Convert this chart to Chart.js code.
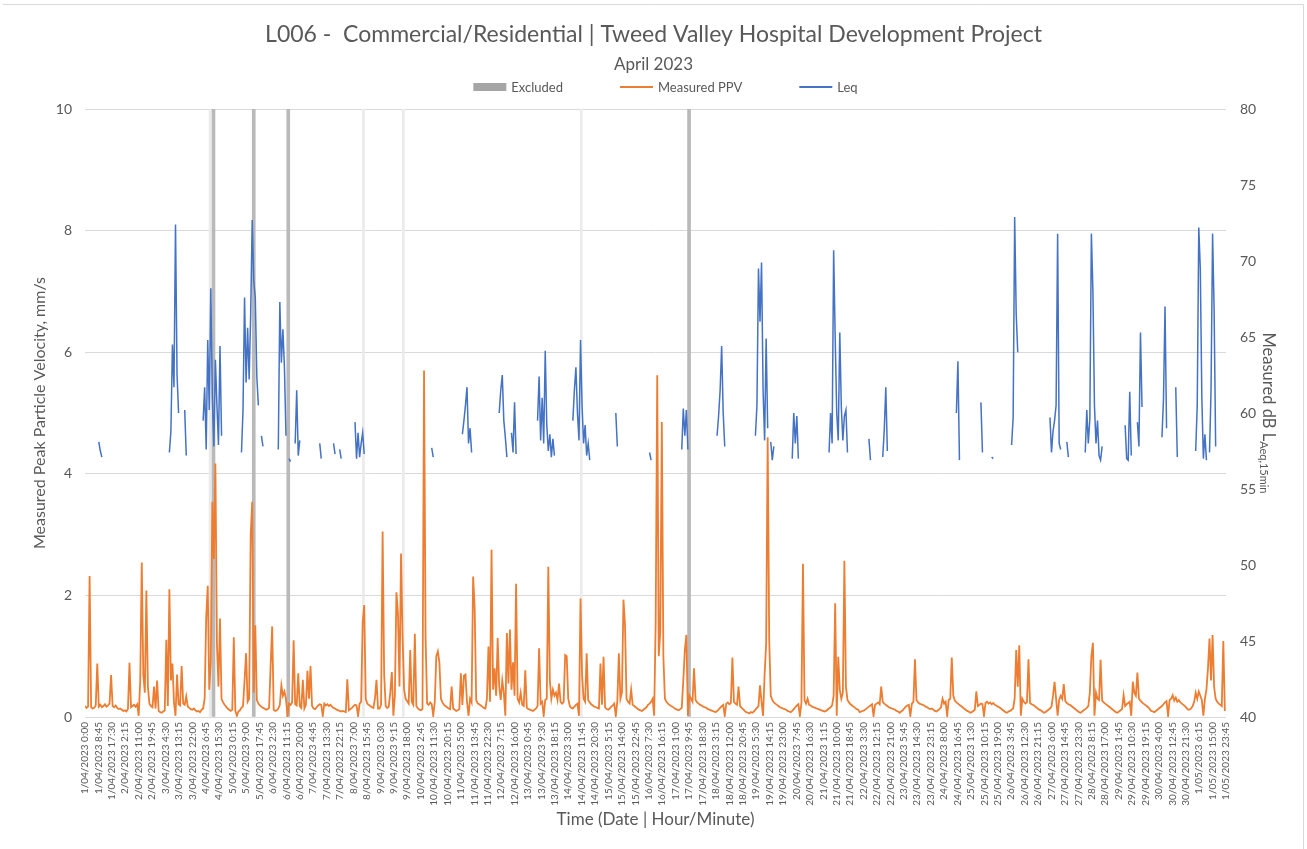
<!DOCTYPE html>
<html>
<head>
<meta charset="utf-8">
<title>L006 - Commercial/Residential | Tweed Valley Hospital Development Project</title>
<script src="https://cdn.jsdelivr.net/npm/chart.js@4.4.1/dist/chart.umd.min.js"></script>
<style>
    html, body { margin: 0; padding: 0; background: #fff; }
    #wrap { width: 1307px; height: 849px; position: relative; }
</style>
</head>
<body>
<div id="wrap"><canvas id="ppvChart"></canvas></div>
<script>
// Axis labels: one every 35 x 15-minute slots (8h45)
const tickStep = 35;
const tickLabels = [
    '1/04/2023 0:00', '1/04/2023 8:45', '1/04/2023 17:30', '2/04/2023 2:15', '2/04/2023 11:00', '2/04/2023 19:45',
    '3/04/2023 4:30', '3/04/2023 13:15', '3/04/2023 22:00', '4/04/2023 6:45', '4/04/2023 15:30', '5/04/2023 0:15',
    '5/04/2023 9:00', '5/04/2023 17:45', '6/04/2023 2:30', '6/04/2023 11:15', '6/04/2023 20:00', '7/04/2023 4:45',
    '7/04/2023 13:30', '7/04/2023 22:15', '8/04/2023 7:00', '8/04/2023 15:45', '9/04/2023 0:30', '9/04/2023 9:15',
    '9/04/2023 18:00', '10/04/2023 2:45', '10/04/2023 11:30', '10/04/2023 20:15', '11/04/2023 5:00', '11/04/2023 13:45',
    '11/04/2023 22:30', '12/04/2023 7:15', '12/04/2023 16:00', '13/04/2023 0:45', '13/04/2023 9:30', '13/04/2023 18:15',
    '14/04/2023 3:00', '14/04/2023 11:45', '14/04/2023 20:30', '15/04/2023 5:15', '15/04/2023 14:00', '15/04/2023 22:45',
    '16/04/2023 7:30', '16/04/2023 16:15', '17/04/2023 1:00', '17/04/2023 9:45', '17/04/2023 18:30', '18/04/2023 3:15',
    '18/04/2023 12:00', '18/04/2023 20:45', '19/04/2023 5:30', '19/04/2023 14:15', '19/04/2023 23:00', '20/04/2023 7:45',
    '20/04/2023 16:30', '21/04/2023 1:15', '21/04/2023 10:00', '21/04/2023 18:45', '22/04/2023 3:30', '22/04/2023 12:15',
    '22/04/2023 21:00', '23/04/2023 5:45', '23/04/2023 14:30', '23/04/2023 23:15', '24/04/2023 8:00', '24/04/2023 16:45',
    '25/04/2023 1:30', '25/04/2023 10:15', '25/04/2023 19:00', '26/04/2023 3:45', '26/04/2023 12:30', '26/04/2023 21:15',
    '27/04/2023 6:00', '27/04/2023 14:45', '27/04/2023 23:30', '28/04/2023 8:15', '28/04/2023 17:00', '29/04/2023 1:45',
    '29/04/2023 10:30', '29/04/2023 19:15', '30/04/2023 4:00', '30/04/2023 12:45', '30/04/2023 21:30', '1/05/2023 6:15',
    '1/05/2023 15:00', '1/05/2023 23:45'
];
const lastSlot = 2975;

// Measured PPV (mm/s), hourly readings, one row per day (1/04 .. 1/05)
const ppvHourly = [
    [0.18,0.15,0.17,2.32,0.16,0.14,0.15,0.19,0.88,0.17,0.20,0.16,0.18,0.21,0.17,0.19,0.22,0.69,0.18,0.16,0.19,0.15,0.13,0.14],
    [0.12,0.10,0.11,0.09,0.13,0.89,0.16,0.18,0.20,0.17,0.21,0.02,0.60,2.54,0.70,0.40,2.08,0.50,0.22,0.18,0.16,0.50,0.14,0.60],
    [0.10,0.08,0.07,0.09,0.11,1.27,0.18,2.10,0.60,0.88,0.24,0.02,0.70,0.21,0.19,0.84,0.22,0.20,0.34,0.17,0.15,0.13,0.12,0.14],
    [0.11,0.09,0.10,0.08,0.12,0.14,0.30,1.64,2.16,0.45,0.90,3.54,2.60,4.17,1.20,0.50,1.62,0.30,0.24,0.20,0.17,0.14,0.12,0.10],
    [0.12,1.31,0.10,0.02,0.09,0.11,0.15,0.18,0.60,1.05,0.25,0.30,2.98,3.54,0.40,1.51,0.28,0.22,0.19,0.17,0.15,0.14,0.12,0.13],
    [0.15,0.84,1.49,0.12,0.10,0.11,0.14,0.20,0.52,0.35,0.42,0.30,0.02,0.22,0.20,0.24,1.26,0.21,0.19,0.72,0.18,0.15,0.61,0.14],
    [0.20,0.76,0.30,0.84,0.18,0.14,0.13,0.16,0.19,0.21,0.20,0.02,0.22,0.19,0.21,0.18,0.20,0.17,0.15,0.14,0.12,0.11,0.10,0.09],
    [0.10,0.09,0.08,0.62,0.11,0.13,0.15,0.18,0.20,0.19,0.02,0.22,0.25,1.55,1.84,0.30,0.22,0.20,0.18,0.16,0.15,0.30,0.61,0.14],
    [0.14,0.20,3.05,0.70,0.18,0.15,0.17,0.40,0.74,0.02,0.35,2.05,1.70,0.50,2.69,1.32,0.45,0.30,0.26,0.22,1.10,0.25,0.20,1.37],
    [0.18,0.14,0.12,0.11,0.13,5.70,1.30,0.22,0.20,0.24,0.21,0.02,0.25,1.00,1.08,0.90,0.30,0.24,0.20,0.18,0.16,0.14,0.13,0.50],
    [0.14,0.12,0.10,0.11,0.13,0.72,0.20,0.68,0.70,0.25,0.02,0.30,0.24,2.31,1.79,0.28,0.22,0.21,0.19,0.17,0.15,0.14,0.30,1.16],
    [0.25,2.75,0.45,0.80,0.35,1.30,0.50,0.28,0.60,0.40,0.02,1.38,0.55,1.44,0.45,0.90,0.35,2.19,0.30,0.24,0.40,0.20,0.18,0.77],
    [0.15,0.13,0.12,0.11,0.10,0.12,0.14,0.18,1.13,0.22,0.25,0.02,0.28,0.30,2.47,0.60,0.30,0.45,0.35,0.40,0.28,0.55,0.25,0.22],
    [0.25,1.02,1.00,0.30,0.18,0.15,0.14,0.17,0.20,0.22,0.02,1.95,0.70,0.30,0.25,1.05,0.28,0.24,0.21,0.19,0.17,0.16,0.15,0.14],
    [0.88,0.20,0.99,0.16,0.13,0.12,0.14,0.17,0.19,0.22,0.02,0.26,1.05,0.30,0.40,1.93,1.51,0.30,0.25,0.22,0.45,0.20,0.18,0.16],
    [0.14,0.12,0.11,0.10,0.12,0.14,0.16,0.20,0.22,0.25,0.30,0.02,1.58,5.62,1.00,1.40,4.85,1.00,0.30,0.25,0.22,0.20,0.18,0.17],
    [0.15,0.13,0.12,0.11,0.13,0.15,0.60,1.10,1.35,0.02,0.35,0.30,0.25,0.80,0.28,0.24,0.22,0.20,0.19,0.17,0.16,0.15,0.13,0.12],
    [0.11,0.10,0.09,0.08,0.10,0.12,0.15,0.18,0.20,0.02,0.22,0.24,0.21,0.23,0.98,0.25,0.22,0.20,0.50,0.18,0.15,0.13,0.10,0.08],
    [0.07,0.06,0.08,0.07,0.09,0.12,0.15,0.18,0.52,0.25,0.02,0.70,1.20,4.60,1.27,0.35,0.28,0.24,0.22,0.20,0.18,0.16,0.15,0.14],
    [0.13,0.12,0.10,0.09,0.08,0.10,0.13,0.16,0.19,0.21,0.02,0.23,2.52,0.28,0.22,0.30,0.20,0.19,0.17,0.16,0.15,0.14,0.13,0.12],
    [0.11,0.10,0.09,0.10,0.12,0.14,0.16,0.19,0.35,1.87,0.02,0.99,0.45,0.30,0.40,2.57,0.50,0.28,0.24,0.21,0.19,0.17,0.15,0.13],
    [0.12,0.08,0.09,0.10,0.11,0.13,0.15,0.17,0.19,0.21,0.02,0.20,0.22,0.24,0.21,0.50,0.25,0.22,0.20,0.18,0.16,0.15,0.14,0.13],
    [0.12,0.10,0.09,0.07,0.09,0.11,0.14,0.17,0.19,0.20,0.02,0.22,0.25,0.95,0.28,0.24,0.22,0.21,0.20,0.19,0.17,0.16,0.14,0.13],
    [0.14,0.12,0.10,0.09,0.11,0.13,0.16,0.30,0.22,0.25,0.02,0.28,0.30,0.98,0.35,0.27,0.24,0.22,0.20,0.18,0.16,0.14,0.12,0.10],
    [0.09,0.07,0.08,0.10,0.12,0.42,0.18,0.20,0.22,0.21,0.02,0.23,0.25,0.22,0.24,0.21,0.23,0.20,0.19,0.17,0.16,0.14,0.12,0.10],
    [0.08,0.07,0.09,0.10,0.12,0.14,0.30,1.10,0.50,1.18,0.02,0.30,0.25,0.22,0.24,0.95,0.23,0.21,0.20,0.18,0.16,0.14,0.12,0.11],
    [0.09,0.07,0.08,0.10,0.12,0.14,0.17,0.35,0.58,0.30,0.02,0.28,0.35,0.30,0.54,0.26,0.23,0.21,0.20,0.18,0.16,0.14,0.12,0.10],
    [0.08,0.07,0.09,0.11,0.13,0.15,0.18,0.40,1.00,1.22,0.02,0.40,0.30,0.28,0.94,0.27,0.24,0.22,0.20,0.18,0.16,0.14,0.12,0.10],
    [0.08,0.07,0.09,0.11,0.13,0.36,0.18,0.21,0.23,0.25,0.02,0.58,0.40,0.35,0.73,0.30,0.27,0.24,0.22,0.20,0.18,0.16,0.13,0.10],
    [0.09,0.08,0.10,0.12,0.14,0.16,0.18,0.21,0.24,0.26,0.02,0.28,0.30,0.36,0.27,0.32,0.25,0.28,0.24,0.22,0.20,0.18,0.15,0.12],
    [0.12,0.14,0.18,0.25,0.40,0.30,0.42,0.35,0.28,0.02,0.30,0.45,0.80,1.29,0.60,1.35,0.50,0.30,0.25,0.22,0.20,0.18,1.25,0.10]
];

// Leq (dB LAeq,15min) only logged in short runs: [first hour of month, hourly values]
const leqRuns = [
    [9, [58.1, 57.5, 57.1]],
    [55, [57.4, 58.8, 64.5, 61.7, 72.4, 62.5, 60.0]],
    [65, [60.2, 57.2]],
    [77, [59.5, 61.7, 57.6, 64.8, 60.2, 68.2, 61.0, 57.8, 63.5, 60.5, 57.9, 64.4, 58.5]],
    [102, [57.4, 60.2, 67.6, 62.0, 65.6, 62.2, 66.5, 72.7, 68.7, 67.6, 62.4, 60.5]],
    [115, [58.5, 57.8]],
    [126, [57.6, 67.3, 63.3, 65.5, 63.0, 58.5]],
    [133, [57.0, 56.8]],
    [137, [58.0, 61.5, 57.2, 58.2]],
    [153, [58.0, 57.0]],
    [162, [58.0, 57.3]],
    [166, [57.6, 57.0]],
    [176, [59.4, 57.0, 58.7, 57.1, 58.0, 58.7, 57.3]],
    [226, [57.7, 57.1]],
    [246, [58.6, 59.5, 60.5, 61.7, 58.0, 59.0, 57.4]],
    [270, [60.0, 61.5, 62.5, 59.5, 58.4, 57.1]],
    [278, [58.7, 57.4, 60.7, 57.3]],
    [295, [59.5, 62.4, 58.2, 61.0, 58.0, 64.1, 59.2, 57.5, 58.6, 57.1, 58.3, 57.2]],
    [318, [59.5, 61.5, 63.0, 60.0, 58.2, 64.8, 60.5, 58.0, 59.2, 57.2, 58.0, 56.9]],
    [346, [60.0, 57.8]],
    [368, [57.4, 56.9]],
    [389, [57.6, 60.3, 58.5, 60.2, 57.6]],
    [412, [58.5, 59.8, 61.5, 64.4, 60.0, 57.8]],
    [437, [58.5, 60.5, 69.5, 66.0, 69.9, 61.5, 58.2, 64.9, 59.0]],
    [447, [58.1, 56.9, 57.8]],
    [461, [57.0, 60.0, 58.0, 59.8, 57.0]],
    [485, [57.4, 60.0, 58.0, 70.7, 65.0, 60.0, 58.2, 65.3, 60.4, 58.2, 59.8, 60.2, 57.4]],
    [511, [58.3, 56.9]],
    [520, [57.1, 58.9, 61.7, 57.5]],
    [568, [60.0, 63.4, 56.9]],
    [584, [60.7, 57.4]],
    [591, [57.1, 57.0]],
    [604, [57.9, 59.7, 72.9, 66.5, 64.0]],
    [629, [59.7, 57.4, 58.8, 59.5, 60.5, 71.8, 58.0, 57.6]],
    [640, [58.1, 57.1]],
    [652, [57.4, 60.2, 58.0, 59.6, 71.8, 68.0, 60.5, 58.0, 59.5, 57.2, 56.9, 57.8]],
    [678, [59.2, 57.0, 56.9, 61.4, 57.2]],
    [686, [59.4, 57.8, 65.3, 60.4]],
    [702, [58.4, 60.9, 67.0, 59.0]],
    [711, [61.7, 57.1]],
    [724, [57.5, 60.5, 72.2, 69.5, 61.0, 57.0, 58.6, 56.9]],
    [733, [57.4, 61.5, 71.8, 66.8, 57.8]]
];

// Excluded periods (15-minute slot index), longer and brief ones
const excludedLong = [335, 440, 530, 1575];
const excludedBrief = [326, 726, 830, 1294];
const excludedLevel = 10;

const textColor = '#595959';
const fontFamily = 'Lato, "Liberation Sans", sans-serif';

// hourly values -> 15-minute slot positions
const ppvPoints = ppvHourly.flat().map((v, h) => ({ x: h * 4, y: v }));
const leqPoints = [];
leqRuns.forEach(([start, values]) => {
    values.forEach((v, i) => leqPoints.push({ x: (start + i) * 4, y: v }));
    leqPoints.push({ x: (start + values.length) * 4, y: null });
});

// Legend drawn across the top, Excel style
const topLegend = {
    id: 'topLegend',
    afterDraw(chart) {
        const ctx = chart.ctx;
        const items = chart.data.datasets.filter(ds => !ds.skipLegend);
        const swatch = 33, gap = 5, spacing = 57;
        ctx.save();
        ctx.font = '13px ' + fontFamily;
        const widths = items.map(ds => swatch + gap + ctx.measureText(ds.label).width);
        const total = widths.reduce((a, b) => a + b, 0) + spacing * (items.length - 1);
        let x = chart.width / 2 + 12 - total / 2;
        const y = chart.chartArea.top - 22;
        items.forEach((ds, i) => {
            if (ds.type === 'bar') {
                ctx.fillStyle = '#a6a6a6';
                ctx.fillRect(x, y - 4, swatch, 8);
            } else {
                ctx.strokeStyle = ds.borderColor;
                ctx.lineWidth = 2;
                ctx.beginPath();
                ctx.moveTo(x, y);
                ctx.lineTo(x + swatch, y);
                ctx.stroke();
            }
            ctx.fillStyle = textColor;
            ctx.textAlign = 'left';
            ctx.textBaseline = 'middle';
            ctx.fillText(ds.label, x + swatch + gap, y + 1);
            x += widths[i] + spacing;
        });
        ctx.restore();
    }
};

// Right axis title with subscript, reading top to bottom
const rightTitle = {
    id: 'rightTitle',
    afterDraw(chart) {
        const ctx = chart.ctx;
        const area = chart.chartArea;
        const main = 'Measured dB L';
        const sub = 'Aeq,15min';
        ctx.save();
        ctx.translate(chart.scales.y1.left + 42, (area.top + area.bottom) / 2);
        ctx.rotate(Math.PI / 2);
        ctx.font = '16.5px ' + fontFamily;
        const w1 = ctx.measureText(main).width;
        ctx.font = '11px ' + fontFamily;
        const w2 = ctx.measureText(sub).width;
        const start = -(w1 + w2) / 2;
        ctx.fillStyle = textColor;
        ctx.textBaseline = 'middle';
        ctx.textAlign = 'left';
        ctx.font = '16.5px ' + fontFamily;
        ctx.fillText(main, start, 0);
        ctx.font = '11px ' + fontFamily;
        ctx.fillText(sub, start + w1, 4);
        ctx.restore();
    }
};

// White page with the light chart border (top and right edges show)
const chartFrame = {
    id: 'chartFrame',
    beforeDraw(chart) {
        const ctx = chart.ctx;
        ctx.save();
        ctx.fillStyle = '#ffffff';
        ctx.fillRect(0, 0, chart.width, chart.height);
        ctx.strokeStyle = '#d9d9d9';
        ctx.lineWidth = 1;
        ctx.beginPath();
        ctx.moveTo(3, 4.5);
        ctx.lineTo(chart.width - 3.5, 4.5);
        ctx.lineTo(chart.width - 3.5, chart.height);
        ctx.stroke();
        ctx.restore();
    }
};

new Chart(document.getElementById('ppvChart').getContext('2d'), {
    type: 'line',
    data: {
        datasets: [
            {
                type: 'bar',
                label: 'Excluded',
                data: excludedLong.map(i => ({ x: i, y: excludedLevel })),
                backgroundColor: '#b9b9b9',
                barThickness: 3,
                grouped: false,
                yAxisID: 'y',
                order: 3
            },
            {
                type: 'bar',
                label: 'Excluded (brief)',
                skipLegend: true,
                data: excludedBrief.map(i => ({ x: i, y: excludedLevel })),
                backgroundColor: '#ebebeb',
                barThickness: 2,
                grouped: false,
                yAxisID: 'y',
                order: 4
            },
            {
                label: 'Measured PPV',
                data: ppvPoints,
                borderColor: '#ed7d31',
                borderWidth: 1.8,
                pointRadius: 0,
                tension: 0,
                yAxisID: 'y',
                order: 2
            },
            {
                label: 'Leq',
                data: leqPoints,
                borderColor: '#4472c4',
                borderWidth: 1.5,
                pointRadius: 0,
                tension: 0,
                spanGaps: false,
                yAxisID: 'y1',
                order: 1
            }
        ]
    },
    options: {
        responsive: true,
        maintainAspectRatio: false,
        animation: false,
        layout: { padding: 0 },
        plugins: {
            legend: { display: false },
            tooltip: { enabled: false },
            title: {
                display: true,
                text: 'L006 -  Commercial/Residential | Tweed Valley Hospital Development Project',
                color: textColor,
                font: { family: fontFamily, size: 23, weight: 'normal' },
                padding: { top: 21, bottom: 5 }
            },
            subtitle: {
                display: true,
                text: 'April 2023',
                color: textColor,
                font: { family: fontFamily, size: 17 },
                padding: { top: 1, bottom: 34 }
            }
        },
        scales: {
            x: {
                type: 'linear',
                min: 0,
                max: lastSlot,
                offset: false,
                grid: { display: false, drawTicks: false },
                border: { display: false },
                afterBuildTicks: axis => {
                    axis.ticks = tickLabels.map((_, i) => ({ value: i * tickStep }));
                },
                afterFit: axis => { axis.height = 132; },
                ticks: {
                    autoSkip: false,
                    minRotation: 90,
                    maxRotation: 90,
                    padding: 5,
                    color: textColor,
                    font: { family: fontFamily, size: 10 },
                    callback: value => tickLabels[Math.round(value / tickStep)]
                },
                title: {
                    display: true,
                    text: 'Time (Date | Hour/Minute)',
                    color: textColor,
                    font: { family: fontFamily, size: 17 },
                    padding: { top: 0, bottom: 19 }
                }
            },
            y: {
                position: 'left',
                min: 0,
                max: 10,
                ticks: { stepSize: 2, padding: 13, color: textColor, font: { family: fontFamily, size: 14 } },
                grid: { color: '#d9d9d9', drawTicks: false },
                border: { display: false },
                afterFit: axis => { axis.width = 85; },
                title: {
                    display: true,
                    text: 'Measured Peak Particle Velocity, mm/s',
                    color: textColor,
                    font: { family: fontFamily, size: 16 },
                    padding: { top: 30, bottom: 0 }
                }
            },
            y1: {
                position: 'right',
                min: 40,
                max: 80,
                ticks: { stepSize: 5, padding: 14, color: textColor, font: { family: fontFamily, size: 14 } },
                grid: { display: false, drawTicks: false },
                border: { display: false },
                afterFit: axis => { axis.width = 81; }
            }
        }
    },
    plugins: [chartFrame, topLegend, rightTitle]
});
</script>
</body>
</html>
